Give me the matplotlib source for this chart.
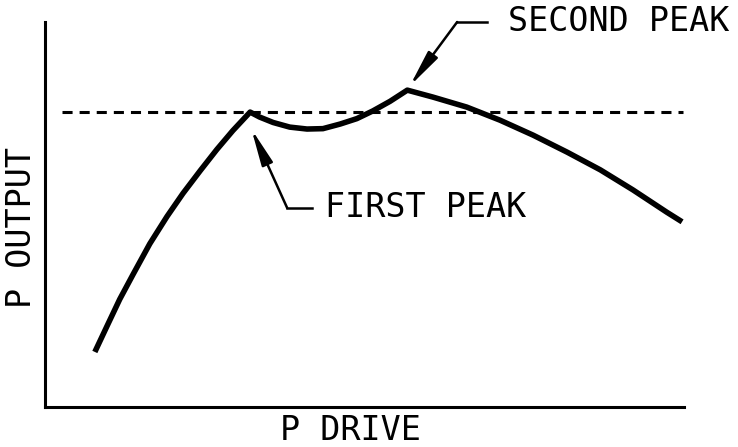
import matplotlib
matplotlib.use("Agg")
import matplotlib.pyplot as plt

# power output vs drive, three pieces joined at the two peaks
rise_x = [7.8, 9.7, 11.7, 13.8, 16.4, 19.1, 21.6, 24.3, 26.9, 29.4, 32.1]
rise_y = [14.3, 21.0, 28.0, 34.5, 42.4, 49.5, 55.5, 61.4, 66.9, 71.8, 76.6]
dip_x = [32.1, 33.6, 35.7, 38.3, 41.0, 43.5, 46.2, 48.8, 51.3, 54.0, 56.7]
dip_y = [76.6, 75.3, 73.9, 72.7, 72.2, 72.3, 73.5, 74.9, 76.9, 79.4, 82.3]
fall_x = [56.7, 60.7, 66.0, 71.2, 76.4, 81.7, 86.9, 92.0, 97.3, 99.7]
fall_y = [82.3, 80.5, 77.9, 74.5, 70.6, 66.2, 61.6, 56.4, 50.6, 48.1]

level_y = 76.6
level_x = [2.7, 99.8]

labels = ["FIRST PEAK", "SECOND PEAK"]
tips = [(32.3, 72.2), (57.1, 83.4)]
bends = [(37.9, 51.7), (64.5, 100.0)]
ends = [(41.8, 51.7), (69.2, 100.0)]
text_pos = [(43.8, 51.9), (72.5, 100.2)]

MONO = "DejaVu Sans Mono"
FS = 24

fig = plt.figure(figsize=(7.38, 4.47), dpi=100)
ax = fig.add_axes([45 / 738, 40 / 447, 639 / 738, 385 / 447])

x = rise_x + dip_x[1:] + fall_x[1:]
y = rise_y + dip_y[1:] + fall_y[1:]
ax.plot(x, y, color="black", lw=4.0, solid_capstyle="butt", solid_joinstyle="round")
ax.plot(level_x, [level_y, level_y], color="black", lw=2.2, dashes=(3.3, 2.3))

for lab, tip, bend, end, tp in zip(labels, tips, bends, ends, text_pos):
    ax.plot([bend[0], end[0]], [bend[1], end[1]], color="black", lw=1.8, clip_on=False)
    ax.annotate("", xy=tip, xytext=bend, annotation_clip=False,
                arrowprops=dict(arrowstyle="-|>,head_length=2.2,head_width=0.35",
                                color="black", lw=1.8, shrinkA=0, shrinkB=0))
    ax.text(tp[0], tp[1], lab, family=MONO, fontsize=FS, va="center", ha="left",
            clip_on=False)

ax.set_xlim(0, 100)
ax.set_ylim(0, 100)
for side in ("top", "right"):
    ax.spines[side].set_visible(False)
for side in ("left", "bottom"):
    ax.spines[side].set_linewidth(2.2)
ax.set_xticks([])
ax.set_yticks([])

fig.text(350 / 738, 1 - 431 / 447, "P DRIVE", family=MONO, fontsize=FS,
         ha="center", va="center")
fig.text(22 / 738, 1 - 228 / 447, "P OUTPUT", family=MONO, fontsize=FS,
         ha="center", va="center", rotation=90)

fig.savefig("out.png", dpi=100, facecolor="white")
